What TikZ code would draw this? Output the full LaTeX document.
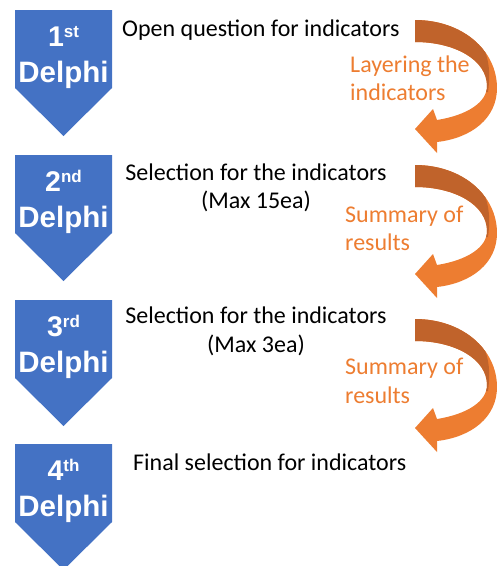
\documentclass[tikz,border=0pt]{standalone}
\usepackage{fontspec}
\setmainfont{Carlito}
\newfontfamily\arialfont{Liberation Sans}
\definecolor{dblue}{HTML}{4472C4}
\definecolor{lorange}{HTML}{ED7D31}
\definecolor{dorange}{HTML}{C0632B}
\tikzset{
  stepbox/.style={fill=dblue, draw=none},
  numtxt/.style={text=white, inner sep=0pt, anchor=base, font=\arialfont\bfseries},
  maintxt/.style={text=black, inner sep=0pt, font=\fontsize{24}{28}\selectfont},
  notetxt/.style={text=lorange, inner sep=0pt, anchor=base west, font=\fontsize{24}{28}\selectfont},
}
\newcommand\arrowpath{(415,20) .. controls (462,20) and (497,50) .. (497,88) .. controls (497,118) and (472,138) .. (437,142) -- (437,153) -- (415,129) -- (433,109) -- (437,120) .. controls (468,115) and (487,102) .. (487,86) .. controls (487,60) and (455,42) .. (415,42) -- cycle}
\newcommand\delphistep[3]{%
  \begin{scope}[shift={(0,#1)}]
    \fill[stepbox] (15,10) -- (112,10) -- (112,88) -- (63.5,136) -- (15,88) -- cycle;
    \node[numtxt] (n#3) at (63.5,46) {\fontsize{28.5}{28}\selectfont #2};
    \node[numtxt] (d#3) at (63.5,82) {\fontsize{29.5}{30}\selectfont Delphi};
  \end{scope}}
\newcommand\bendarrow[1]{%
  \begin{scope}[shift={(0,#1)}]
    \fill[lorange] \arrowpath;
    \begin{scope}
      \clip \arrowpath;
      \fill[dorange] (400,0) -- (472,32) .. controls (486,46) and (492,64) .. (488,92) -- (400,92) -- cycle;
    \end{scope}
  \end{scope}}
\begin{document}
\begin{tikzpicture}[x=1pt,y=-1pt]
\useasboundingbox (0,0) rectangle (497,566);
\delphistep{0}{1\raisebox{9pt}{\fontsize{17}{17}\selectfont st}}{1}
\delphistep{145}{2\raisebox{9pt}{\fontsize{17}{17}\selectfont nd}}{2}
\delphistep{290}{3\raisebox{9pt}{\fontsize{17}{17}\selectfont rd}}{3}
\delphistep{434}{4\raisebox{9pt}{\fontsize{17}{17}\selectfont th}}{4}
\bendarrow{0}
\bendarrow{145}
\bendarrow{299}
\node[maintxt, anchor=base west] (t1) at (122,36) {Open question for indicators};
\node[maintxt, anchor=base] (t2a) at (256,180) {Selection for the indicators};
\node[maintxt, anchor=base] (t2b) at (256,208) {(Max 15ea)};
\node[maintxt, anchor=base] (t3a) at (256,323) {Selection for the indicators};
\node[maintxt, anchor=base] (t3b) at (256,352) {(Max 3ea)};
\node[maintxt, anchor=base west] (t4) at (133,470) {Final selection for indicators};
\node[notetxt] (l1a) at (350,72) {Layering the};
\node[notetxt] (l1b) at (350,100) {indicators};
\node[notetxt] (l2a) at (345,222) {Summary of};
\node[notetxt] (l2b) at (345,250) {results};
\node[notetxt] (l3a) at (345,374) {Summary of};
\node[notetxt] (l3b) at (345,403) {results};
\end{tikzpicture}
\end{document}
